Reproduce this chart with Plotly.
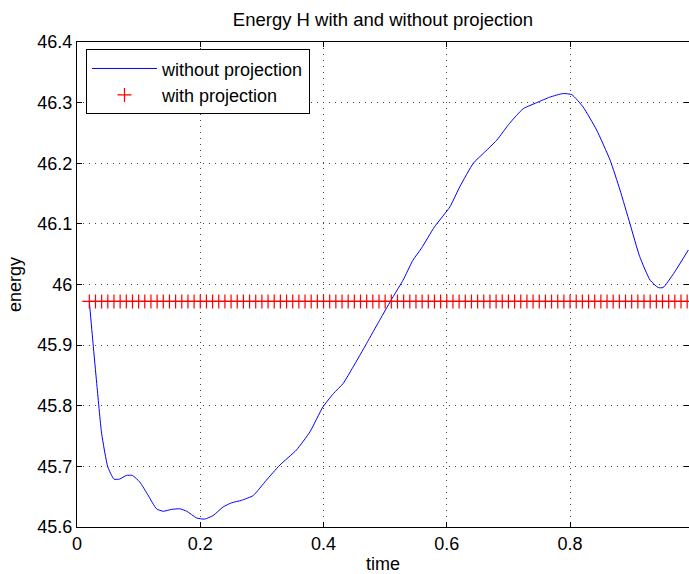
import plotly.graph_objects as go

# Blue curve: energy without projection
time_np = [0.020, 0.026, 0.032, 0.040, 0.050, 0.060, 0.069, 0.080, 0.090, 0.102,
           0.115, 0.129, 0.140, 0.153, 0.167, 0.178, 0.194, 0.207, 0.221, 0.237,
           0.251, 0.267, 0.286, 0.307, 0.329, 0.356, 0.378, 0.399, 0.416, 0.432,
           0.448, 0.470, 0.491, 0.513, 0.529, 0.545, 0.559, 0.580, 0.605, 0.621,
           0.643, 0.659, 0.681, 0.702, 0.724, 0.746, 0.767, 0.789, 0.803, 0.821,
           0.843, 0.865, 0.881, 0.897, 0.913, 0.930, 0.943, 0.951, 0.968, 0.992]
energy_np = [45.972, 45.903, 45.837, 45.754, 45.699, 45.679, 45.679, 45.685, 45.685, 45.674,
             45.653, 45.630, 45.626, 45.629, 45.630, 45.626, 45.615, 45.613, 45.619, 45.633,
             45.640, 45.644, 45.652, 45.677, 45.702, 45.727, 45.757, 45.798, 45.820, 45.837,
             45.864, 45.903, 45.941, 45.980, 46.007, 46.040, 46.060, 46.095, 46.128, 46.161,
             46.200, 46.216, 46.238, 46.266, 46.290, 46.300, 46.309, 46.315, 46.313, 46.293,
             46.255, 46.205, 46.156, 46.101, 46.046, 46.007, 45.995, 45.995, 46.018, 46.057]

# Red markers: energy with projection, sampled every 0.01 from 0.02 to 0.99
time_p = [0.02, 0.03, 0.04, 0.05, 0.06, 0.07, 0.08, 0.09, 0.10, 0.11, 0.12, 0.13, 0.14,
          0.15, 0.16, 0.17, 0.18, 0.19, 0.20, 0.21, 0.22, 0.23, 0.24, 0.25, 0.26, 0.27,
          0.28, 0.29, 0.30, 0.31, 0.32, 0.33, 0.34, 0.35, 0.36, 0.37, 0.38, 0.39, 0.40,
          0.41, 0.42, 0.43, 0.44, 0.45, 0.46, 0.47, 0.48, 0.49, 0.50, 0.51, 0.52, 0.53,
          0.54, 0.55, 0.56, 0.57, 0.58, 0.59, 0.60, 0.61, 0.62, 0.63, 0.64, 0.65, 0.66,
          0.67, 0.68, 0.69, 0.70, 0.71, 0.72, 0.73, 0.74, 0.75, 0.76, 0.77, 0.78, 0.79,
          0.80, 0.81, 0.82, 0.83, 0.84, 0.85, 0.86, 0.87, 0.88, 0.89, 0.90, 0.91, 0.92,
          0.93, 0.94, 0.95, 0.96, 0.97, 0.98, 0.99]
energy_p_value = 45.972
energy_p = [energy_p_value for _ in time_p]

x_tickvals = [0, 0.2, 0.4, 0.6, 0.8]
x_ticktext = ["0", "0.2", "0.4", "0.6", "0.8"]
y_tickvals = [45.6, 45.7, 45.8, 45.9, 46.0, 46.1, 46.2, 46.3, 46.4]
y_ticktext = ["45.6", "45.7", "45.8", "45.9", "46", "46.1", "46.2", "46.3", "46.4"]

FONT = "Liberation Sans, Arial, Helvetica, sans-serif"

fig = go.Figure()
fig.add_trace(go.Scatter(
    x=time_np, y=energy_np, mode="lines", name="without projection",
    line=dict(color="#0000ff", width=1, shape="spline", smoothing=0.5)))
fig.add_trace(go.Scatter(
    x=time_p, y=energy_p, mode="markers", name="with projection",
    marker=dict(symbol="cross-thin", size=10, line=dict(color="#ff0000", width=1.2),
                color="#ff0000")))

axis_common = dict(
    showline=True, linecolor="black", linewidth=1, mirror="ticks",
    ticks="inside", ticklen=5, tickcolor="black", tickwidth=1,
    showgrid=True, gridcolor="#444444", gridwidth=1, griddash="1px,5px",
    zeroline=False, tickfont=dict(family=FONT, size=18, color="black"),
)

fig.update_layout(
    width=689, height=574,
    margin=dict(l=77, r=0, t=42, b=47),
    paper_bgcolor="white", plot_bgcolor="white",
    font=dict(family=FONT, size=18, color="black"),
    title=dict(text="Energy H with and without projection", x=0.5, xref="paper",
               xanchor="center", y=1 - 20 / 574, yref="container", yanchor="middle",
               font=dict(family=FONT, size=18.5, color="black")),
    xaxis=dict(range=[0, 0.993], tickvals=x_tickvals, ticktext=x_ticktext,
               title=dict(text="time", standoff=9, font=dict(family=FONT, size=18)),
               **axis_common),
    yaxis=dict(range=[45.6, 46.4], tickvals=y_tickvals, ticktext=y_ticktext,
               title=dict(text="energy", standoff=11, font=dict(family=FONT, size=18)),
               **axis_common),
    legend=dict(x=0.0147, y=0.985, xanchor="left", yanchor="top",
                bgcolor="white", bordercolor="black", borderwidth=1,
                font=dict(family=FONT, size=18, color="black"),
                itemwidth=65, tracegroupgap=0),
    showlegend=True,
)

fig.write_html("out.html")
